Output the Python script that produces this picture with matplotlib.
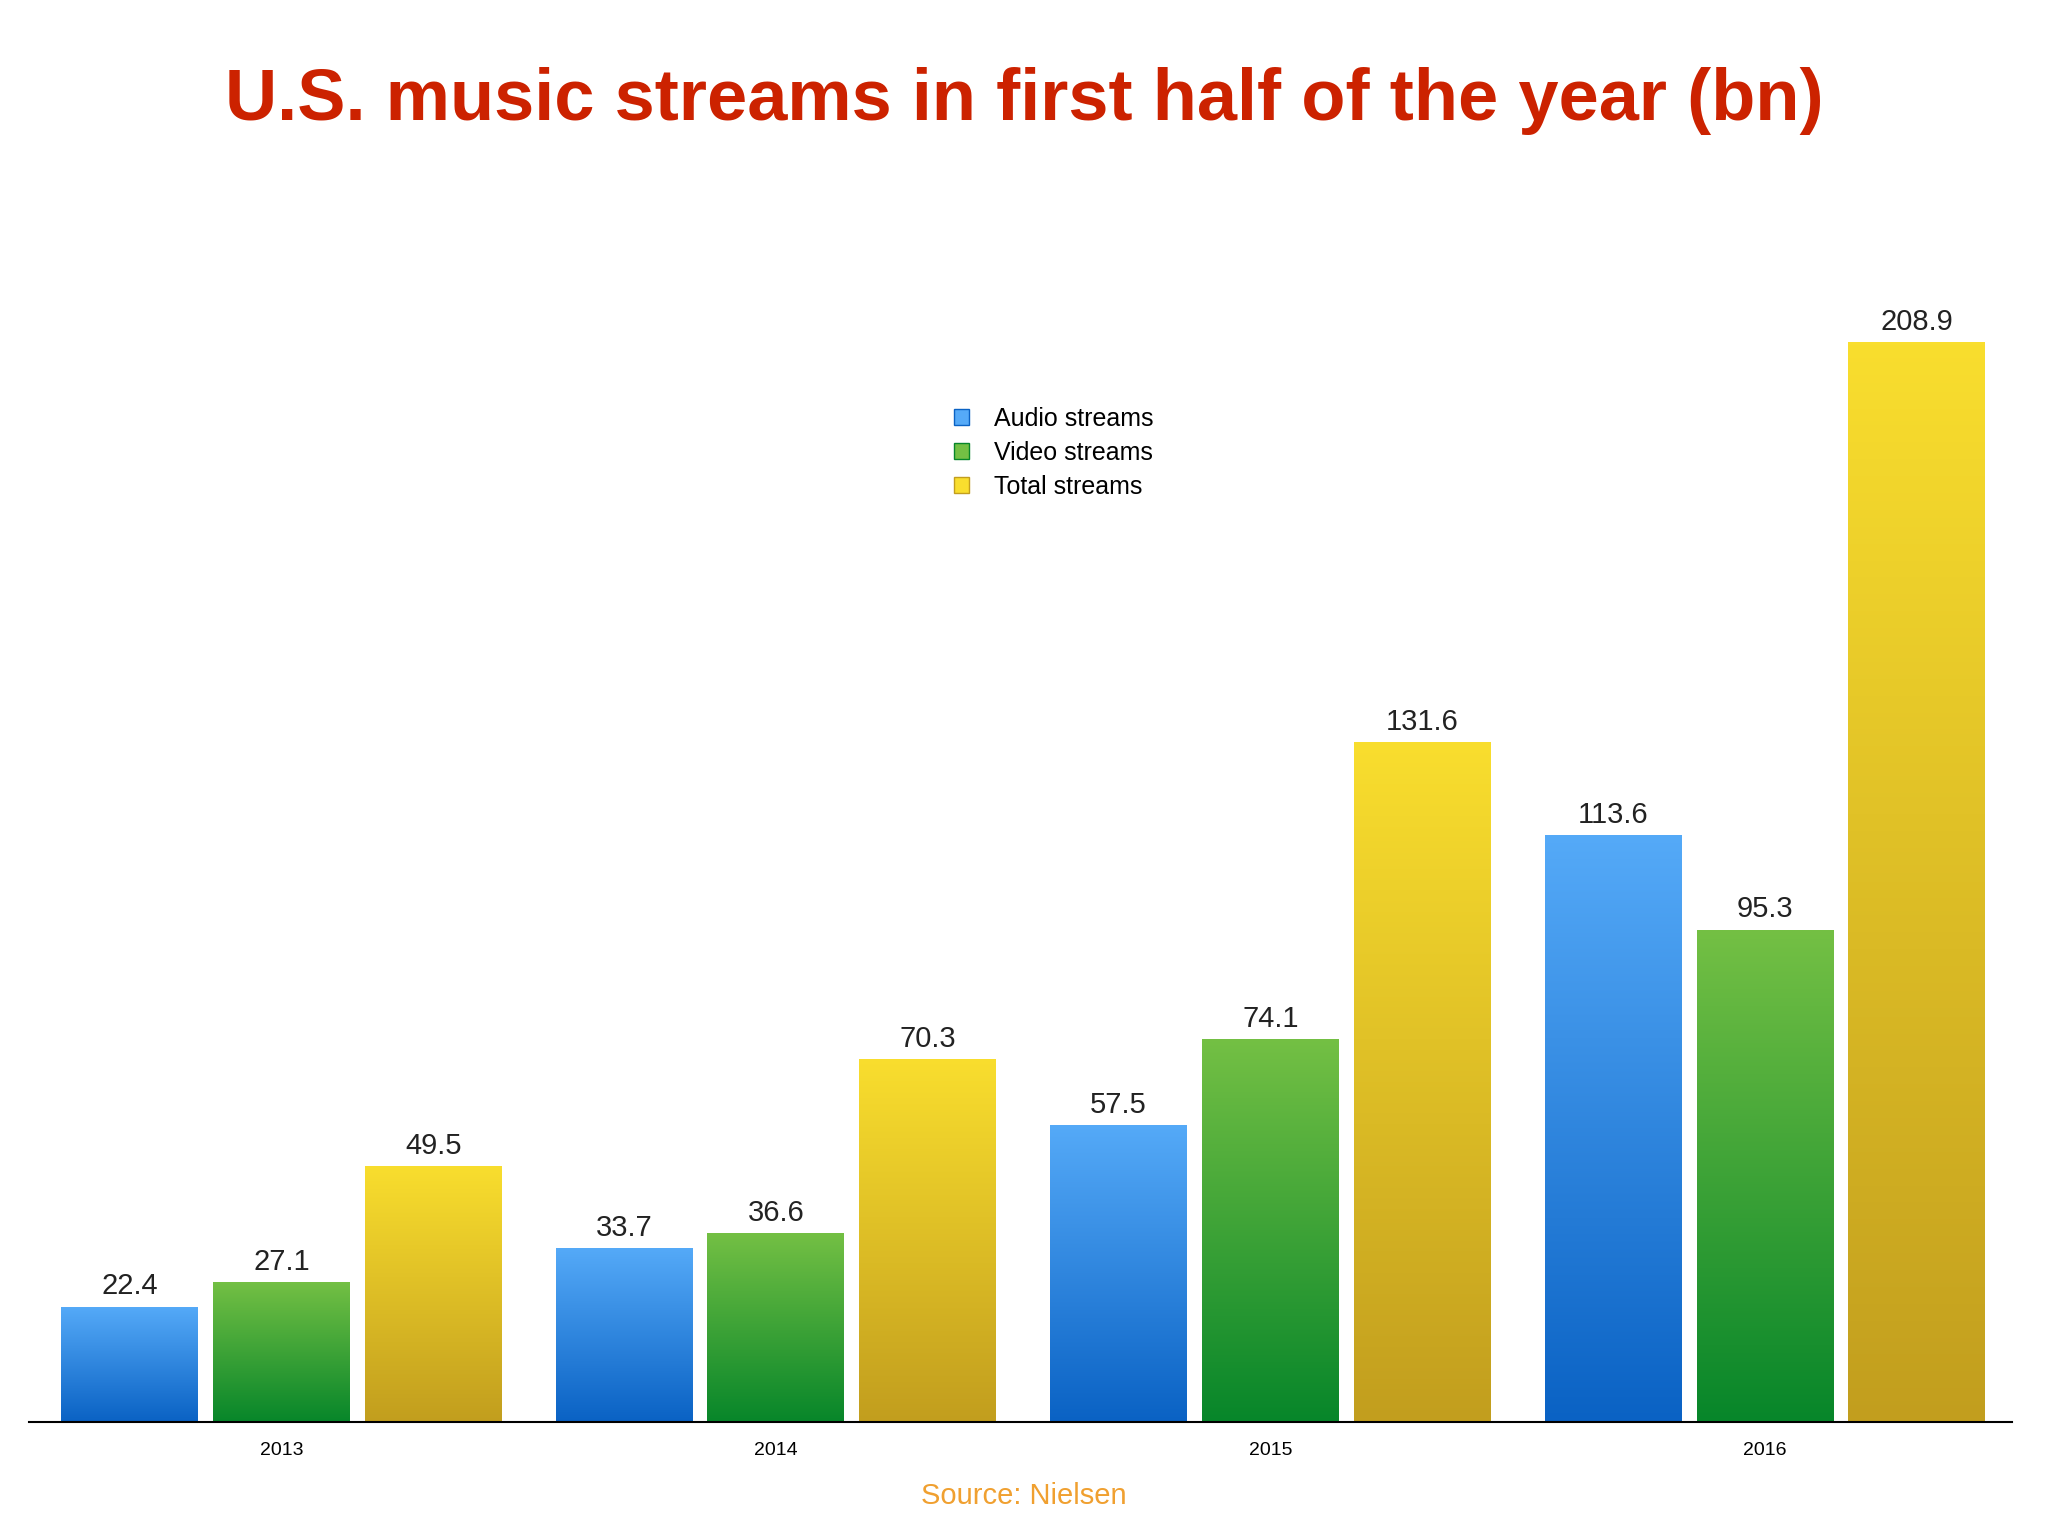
import matplotlib
matplotlib.use("Agg")
import matplotlib.pyplot as plt
import numpy as np
from matplotlib.colors import LinearSegmentedColormap
from matplotlib.patches import Rectangle

plt.rcParams["font.family"] = "Liberation Sans"

years = ["2013", "2014", "2015", "2016"]
series_names = ["Audio streams", "Video streams", "Total streams"]
audio = [22.4, 33.7, 57.5, 113.6]
video = [27.1, 36.6, 74.1, 95.3]
total = [49.5, 70.3, 131.6, 208.9]
series = [audio, video, total]
grads = [("#0a62c4", "#55aaf8"), ("#07862a", "#74c044"), ("#c29e1e", "#f9de2e")]

fig = plt.figure(figsize=(20.48, 15.36), dpi=100)
ax = fig.add_axes([0.0142, 0.0739, 0.9684, 0.8058])

w = 0.277
off = 0.307
x = np.arange(len(years))
grad = np.linspace(0, 1, 256).reshape(-1, 1)
for i, (vals, (c0, c1)) in enumerate(zip(series, grads)):
    cmap = LinearSegmentedColormap.from_list("g%d" % i, [c0, c1])
    for xi, v in zip(x, vals):
        l = xi + (i - 1) * off - w / 2
        im = ax.imshow(grad, cmap=cmap, origin="lower", aspect="auto",
                       extent=[l, l + w, 0, v], zorder=2)
        r = Rectangle((l, 0), w, v, transform=ax.transData, visible=False)
        ax.add_patch(r)
        im.set_clip_path(r)
        ax.text(l + w / 2, v + 1.2, f"{v:.1f}", ha="center", va="bottom",
                fontsize=21, color="#222222")

ax.set_xlim(-0.51, 3.50)
ax.set_ylim(0, 239.3)
ax.set_xticks(x)
ax.set_xticklabels(years, fontsize=14)
ax.tick_params(axis="x", length=0, pad=14)
ax.set_yticks([])
for s in ["top", "right", "left"]:
    ax.spines[s].set_visible(False)
ax.spines["bottom"].set_linewidth(1.5)

handles = []
for (c0, c1), n in zip(grads, series_names):
    handles.append(Rectangle((0, 0), 1, 1, facecolor=c1, edgecolor=c0, label=n))
fig.legend(handles=handles, loc="upper left", bbox_to_anchor=(0.455, 0.75),
           frameon=False, fontsize=18, handlelength=0.6, handleheight=0.6,
           handletextpad=1.0, labelspacing=0.4)

fig.text(0.5, 0.934, "U.S. music streams in first half of the year (bn)", ha="center",
         va="center", fontsize=52, fontweight="bold", color="#cc2200")
fig.text(0.5, 0.026, "Source: Nielsen", ha="center", va="center", fontsize=21,
         color="#f0a030")

fig.savefig("out.png", dpi=100)
